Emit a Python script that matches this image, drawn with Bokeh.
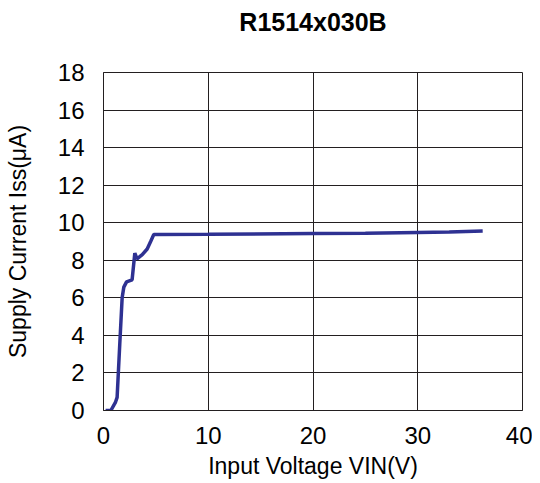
from bokeh.plotting import figure
from bokeh.models import FixedTicker, Range1d, Title
from bokeh.embed import file_html
from bokeh.resources import INLINE

# Data
vin = [0.2, 0.7, 1.15, 1.3, 1.55, 1.78, 1.94, 2.2, 2.73, 2.99, 3.2, 3.7, 4.17, 4.5, 4.8, 10, 20, 25, 30, 33, 36.2]
iss = [0.0, 0.0, 0.45, 0.7, 3.5, 6.0, 6.57, 6.85, 6.96, 8.38, 8.08, 8.3, 8.6, 9.0, 9.37, 9.38, 9.42, 9.44, 9.48, 9.5, 9.56]

x_ticks = [0, 10, 20, 30, 40]
y_ticks = [0, 2, 4, 6, 8, 10, 12, 14, 16, 18]

FONT = "Liberation Sans"
DARK = "#231f20"

p = figure(frame_width=419, frame_height=338, width=532, height=475,
           min_border_left=103, min_border_right=10, min_border_top=72, min_border_bottom=65,
           x_range=Range1d(0, 40), y_range=Range1d(0, 18),
           output_backend="svg", toolbar_location=None)

# spacer between frame and title
p.add_layout(Title(text=" ", text_font=FONT, text_font_size="26px", standoff=0), "above")
p.add_layout(Title(text="R1514x030B", text_font=FONT, text_font_size="25px",
                   text_font_style="bold", text_color="#000000", align="center"), "above")

p.line(vin, iss, line_color="#2e3192", line_width=3.5)

for ax in (p.xaxis[0], p.yaxis[0]):
    ax.major_tick_line_color = None
    ax.minor_tick_line_color = None
    ax.axis_line_color = DARK
    ax.major_label_text_font = FONT
    ax.major_label_text_font_size = "24px"
    ax.major_label_text_color = "#000000"
    ax.axis_label_text_font = FONT
    ax.axis_label_text_font_size = "23px"
    ax.axis_label_text_font_style = "normal"
    ax.axis_label_text_color = "#000000"

p.xaxis.ticker = FixedTicker(ticks=x_ticks)
p.yaxis.ticker = FixedTicker(ticks=y_ticks)
p.xaxis.axis_label = "Input Voltage VIN(V)"
p.yaxis.axis_label = "Supply Current Iss(μA)"
p.xaxis.major_label_standoff = 10
p.yaxis.major_label_standoff = 13
p.xaxis.axis_label_standoff = 6
p.yaxis.axis_label_standoff = 24

p.xgrid.grid_line_color = DARK
p.ygrid.grid_line_color = DARK
p.xgrid.grid_line_width = 1
p.ygrid.grid_line_width = 1
p.outline_line_color = DARK
p.outline_line_width = 1
p.outline_line_alpha = 1

open("out.html", "w").write(file_html(p, INLINE))
